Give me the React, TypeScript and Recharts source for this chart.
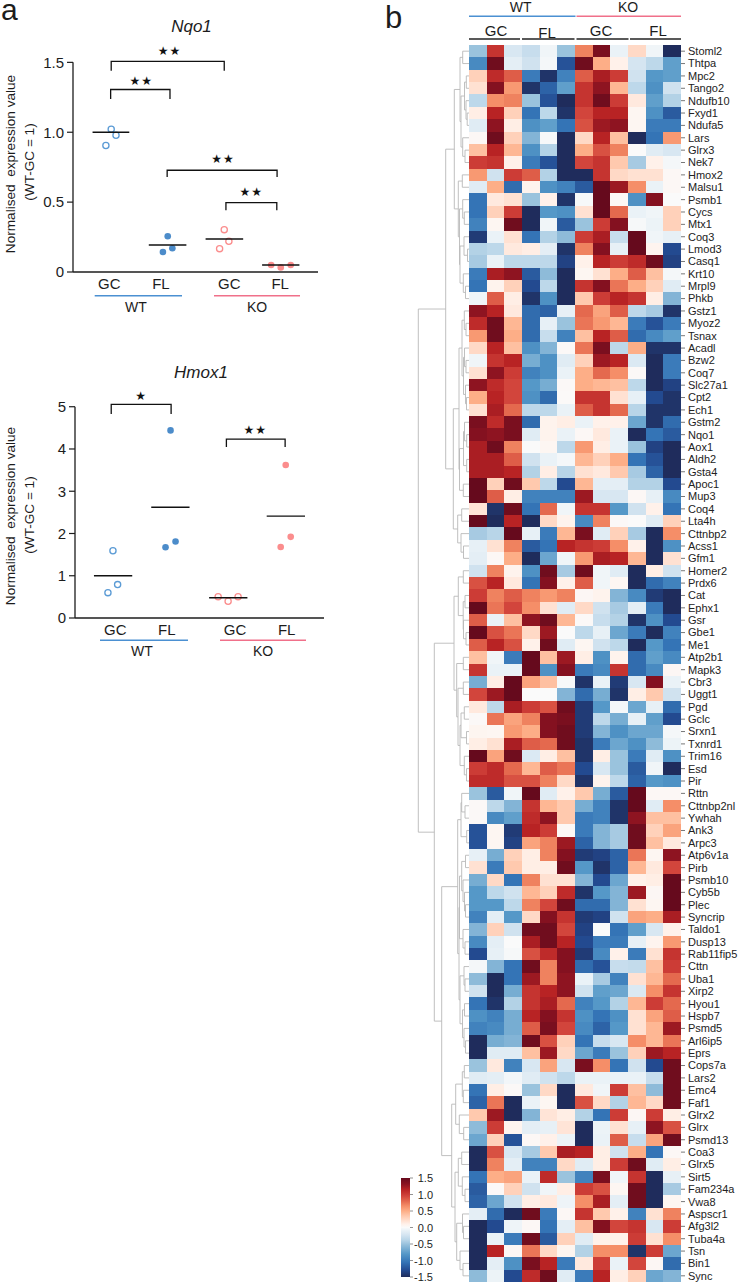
import React from 'react';
import { ScatterChart, Scatter, XAxis, YAxis, ReferenceArea } from 'recharts';

const FONT = '"Liberation Sans", Arial, sans-serif';

// ---------- panel a data ----------
const groupLabels = ['GC', 'FL', 'GC', 'FL'];

const nqoWtGc = [{ x: 1, y: 1.022 }, { x: 1.085, y: 0.979 }, { x: 0.906, y: 0.905 }];
const nqoWtFl = [{ x: 2, y: 0.256 }, { x: 2.082, y: 0.17 }, { x: 1.915, y: 0.143 }];
const nqoKoGc = [{ x: 3, y: 0.303 }, { x: 3.082, y: 0.22 }, { x: 2.918, y: 0.167 }];
const nqoKoFl = [{ x: 3.83, y: 0.05 }, { x: 4, y: 0.033 }, { x: 4.176, y: 0.05 }];
const nqoMeans = [
  [0.67, 1.32, 1.0],
  [1.665, 2.33, 0.193],
  [2.67, 3.335, 0.236],
  [3.67, 4.33, 0.05],
];
const nqoBrackets = [
  [1, 3, 1.507, 1.44, 1.44],
  [0.99, 2.04, 1.306, 1.237, 1.237],
  [1.99, 3.935, 0.728, 0.68, 0.68],
  [3.03, 3.93, 0.497, 0.442, 0.442],
];
const nqoStars = [
  { x: 2.03, y: 1.588, s: '★★' },
  { x: 1.53, y: 1.371, s: '★★' },
  { x: 2.98, y: 0.814, s: '★★' },
  { x: 3.48, y: 0.576, s: '★★' },
];
const nqoLabelTicks = [0.965, 1.88, 3.09, 3.99];

const hmoxWtGc = [{ x: 1, y: 1.59 }, { x: 1.081, y: 0.79 }, { x: 0.913, y: 0.6 }];
const hmoxWtFl = [{ x: 2, y: 4.44 }, { x: 2.087, y: 1.81 }, { x: 1.913, y: 1.675 }];
const hmoxKoGc = [{ x: 2.827, y: 0.505 }, { x: 3, y: 0.395 }, { x: 3.173, y: 0.505 }];
const hmoxKoFl = [{ x: 4, y: 3.62 }, { x: 4.087, y: 1.92 }, { x: 3.913, y: 1.68 }];
const hmoxMeans = [
  [0.67, 1.335, 1.0],
  [1.665, 2.33, 2.62],
  [2.67, 3.335, 0.48],
  [3.67, 4.335, 2.41],
];
const hmoxBrackets = [
  [0.97, 2.01, 5.055, 4.826, 4.826],
  [2.97, 3.99, 4.234, 4.044, 4.044],
];
const hmoxStars = [
  { x: 1.49, y: 5.26, s: '★' },
  { x: 3.47, y: 4.45, s: '★★' },
];
const hmoxLabelTicks = [1.04, 1.936, 3.12, 4.017];

// ---------- panel b data ----------
const genes = [
  'Stoml2', 'Thtpa', 'Mpc2', 'Tango2', 'Ndufb10', 'Fxyd1', 'Ndufa5', 'Lars', 'Glrx3', 'Nek7',
  'Hmox2', 'Malsu1', 'Psmb1', 'Cycs', 'Mtx1', 'Coq3', 'Lmod3', 'Casq1', 'Krt10', 'Mrpl9', 'Phkb',
  'Gstz1', 'Myoz2', 'Tsnax', 'Acadl', 'Bzw2', 'Coq7', 'Slc27a1', 'Cpt2', 'Ech1', 'Gstm2', 'Nqo1',
  'Aox1', 'Aldh2', 'Gsta4', 'Apoc1', 'Mup3', 'Coq4', 'Lta4h', 'Cttnbp2', 'Acss1', 'Gfm1',
  'Homer2', 'Prdx6', 'Cat', 'Ephx1', 'Gsr', 'Gbe1', 'Me1', 'Atp2b1', 'Mapk3', 'Cbr3', 'Uggt1',
  'Pgd', 'Gclc', 'Srxn1', 'Txnrd1', 'Trim16', 'Esd', 'Pir',
  'Rttn', 'Cttnbp2nl', 'Ywhah', 'Ank3', 'Arpc3', 'Atp6v1a', 'Pirb', 'Psmb10', 'Cyb5b', 'Plec',
  'Syncrip', 'Taldo1', 'Dusp13', 'Rab11fip5', 'Cttn', 'Uba1', 'Xirp2', 'Hyou1', 'Hspb7', 'Psmd5',
  'Arl6ip5', 'Eprs', 'Cops7a', 'Lars2', 'Emc4', 'Faf1', 'Glrx2', 'Glrx', 'Psmd13', 'Coa3', 'Glrx5',
  'Sirt5', 'Fam234a', 'Vwa8', 'Aspscr1', 'Afg3l2', 'Tuba4a', 'Tsn', 'Bin1', 'Sync',
];

const heatRows = [
  [-.5, 1.05, -.2, -.3, -.05, -.5, .7, 1.4, -.08, .25, -.05, -1.5],
  [-.9, 1.45, -.12, -.25, -.03, -1.25, 1.45, .5, .1, -.22, -.35, -.75],
  [.3, 1.1, .85, -1.0, -1.45, -.95, .85, 1.2, 1.0, -.25, -.8, -.75],
  [.2, 1.35, .6, -1.45, -1.15, -.75, 1.05, 1.3, .45, -.35, -.85, -.25],
  [-.35, .65, .7, -.5, -1.25, -1.5, 1.05, 1.45, 1.0, .15, -.75, -.4],
  [.12, 1.15, .3, -1.05, -.35, -1.45, .95, 1.15, 1.15, .05, -.85, -1.2],
  [-.15, 1.3, .12, -.85, -.75, -1.05, .9, 1.25, 1.3, .05, -1.0, -1.0],
  [.03, 1.45, .3, -.6, -.02, -1.5, .25, 1.15, .4, -1.5, -1.05, .6],
  [.4, 1.15, .45, -.85, -.4, -1.5, .5, .9, .7, 0, -.15, -.2],
  [1.0, 1.05, .1, -1.0, -1.25, -1.5, .95, 1.05, .35, -.45, .1, -.03],
  [.6, -.25, 1.0, .85, -.4, -1.5, -1.5, 1.05, .25, .2, .2, .03],
  [-.15, .5, -1.1, .08, -.85, -.95, -1.2, 1.5, 1.25, .65, -.08, .03],
  [-1.05, .15, .2, -.5, .1, -1.45, -.02, 1.5, .03, -.85, 1.35, 0],
  [-1.05, .3, 1.0, -1.5, -.8, -.85, .2, 1.5, .8, -.08, -.05, .3],
  [-.95, .05, 1.45, -1.5, -.05, -1.2, -.5, 1.0, 1.35, -.02, -.07, .3],
  [-1.4, -.08, .2, -1.05, -.4, -.55, 1.0, 1.2, -.3, 1.5, -.05, -.1],
  [-.4, -.35, .15, .12, -.12, -1.45, .7, 1.35, -.1, 1.5, .07, -1.3],
  [-.45, -.08, -.35, -.35, -.35, -1.35, .1, 1.15, 1.0, 1.1, 1.45, -1.35],
  [-1.0, 1.2, 1.3, -1.2, -.55, -1.5, .05, .2, .5, .85, .4, -.03],
  [-1.05, .08, .3, -1.3, -.35, -1.5, 1.05, 1.35, .75, .5, .3, -.15],
  [-.05, .85, .12, -1.45, -.85, -1.5, .35, 1.0, 1.15, 1.05, .12, -.6],
  [1.3, 1.15, .15, -1.1, -1.15, -.1, .8, .55, .85, -.35, -.45, -1.45],
  [1.1, 1.45, .45, -1.1, -.1, -.5, .75, .6, .45, -1.0, -1.25, -1.0],
  [.6, 1.45, .5, -1.1, -.3, -.95, .4, 1.15, .85, -1.1, -.9, -.75],
  [.25, 1.15, .4, -.85, -.6, .02, .75, 1.4, -.35, .5, -1.45, -1.45],
  [-.05, 1.05, 1.15, -.65, -.85, -.15, .3, 1.25, 1.15, -.18, -1.5, -1.0],
  [.2, 1.3, 1.0, -.95, -.85, -.08, .5, .8, .65, .02, -1.5, -1.0],
  [1.3, 1.1, .95, -.8, -.65, .02, .5, .45, .4, -.35, -1.5, -1.35],
  [.5, 1.15, .95, -.85, -1.1, .01, 1.05, 1.05, .2, -.1, -1.3, -1.45],
  [.2, 1.2, .8, -.35, -.35, -.08, .85, 1.05, .8, -.38, -1.45, -1.45],
  [1.4, 1.1, 1.4, -1.1, .08, .12, -.08, .1, .1, -.7, -1.45, -1.1],
  [1.35, 1.3, 1.4, -.15, .08, -.08, .03, .15, -.08, -1.5, -1.05, -1.2],
  [1.2, 1.45, .7, 0, .05, -.35, .6, .12, -.08, -.5, -1.35, -1.5],
  [1.2, 1.2, .85, -.25, -.08, -.03, .45, .3, .5, -1.05, -1.25, -1.5],
  [1.2, 1.2, 1.15, -.4, .12, -.38, .2, .15, .35, -.45, -1.15, -1.5],
  [1.5, .3, 1.45, .35, -.35, -1.3, .45, -.12, -.12, -.4, -.4, -1.3],
  [1.5, .85, .12, -.95, -.95, -.95, 1.25, -.2, -.2, .03, -.1, -.9],
  [.18, -1.45, 1.45, -1.05, .8, -.05, 1.05, 1.05, -.8, -.25, .1, -1.05],
  [1.5, -1.5, 1.15, -1.5, .25, .08, -.9, .7, .02, 0, -.15, .3],
  [-.45, -.38, 1.5, -.1, -1.0, .45, 1.4, -.15, .3, -.45, -1.5, .65],
  [-.1, .2, .7, -1.2, -1.05, 1.15, 1.05, 1.0, .65, .1, -1.5, -.85],
  [-.12, .03, .5, -1.5, -.7, -.05, .6, 1.2, 1.15, .45, -1.5, .2],
  [-.25, .7, .08, -.85, 1.45, -.45, 1.45, -.05, -.15, -1.5, .12, -.25],
  [.9, 1.15, .15, -1.05, 1.35, .1, .85, -.05, .05, -1.5, -1.1, -.95],
  [1.0, .7, .85, .7, .6, .7, .04, .08, -.6, -.9, -1.4, -1.5],
  [1.5, .75, .95, .65, .2, -.15, .25, -.25, -.45, -.12, -1.0, -1.5],
  [.85, -.08, .4, 1.3, 1.45, .45, .02, -.3, -.4, -1.45, -.85, -1.3],
  [1.5, .9, .75, .25, 1.25, 0, -.35, -.1, -.7, -1.0, -1.5, -.95],
  [.85, 1.15, .9, .1, 1.45, -.15, .05, -.25, -.35, -1.5, -.8, -1.05],
  [.4, -.05, -1.0, 1.5, .4, 1.25, .12, -.85, .08, -1.1, -.75, -.9],
  [1.05, -.08, -.08, 1.5, -.85, 1.35, -1.0, -.9, 1.05, -1.1, -.9, .04],
  [-.65, .12, 1.5, .55, .4, -.02, -1.45, -.08, -1.4, -.2, 1.35, -.08],
  [.95, 1.25, 1.5, 0, 0, -.6, -1.1, -.65, -1.45, .12, .35, -.25],
  [.15, -.35, 1.2, 1.0, .9, 1.45, -1.4, -.8, -.03, -.7, -.1, -1.1],
  [.02, .75, .55, .7, 1.35, 1.4, -1.4, -.35, -.65, -.1, -.75, -1.3],
  [.06, .05, .6, .5, 1.35, 1.45, -1.4, -.6, -.85, -.7, -.7, -.03],
  [.12, .2, 1.2, .85, .8, 1.45, -1.45, -1.0, -.7, -.85, -.55, -.07],
  [1.5, .55, 1.45, -.18, .12, .4, -1.45, .12, -.5, -1.0, -.15, -.85],
  [1.0, 1.1, .8, .45, .85, .75, -1.3, -.2, -.5, -1.2, -.05, -1.5],
  [1.1, 1.1, .9, .9, .7, .25, -1.45, .08, -.35, -1.15, -.8, -.85],
  [-.5, -1.2, -.05, 1.5, -.15, .1, .35, -.65, -1.2, 1.5, .03, .03],
  [.02, -.35, -.6, 1.05, .45, .35, -.65, -.95, -1.45, 1.5, -.15, .65],
  [.02, -.9, -.75, 1.1, 1.3, .35, -1.0, -.95, -1.45, 1.3, .4, .4],
  [-1.25, .05, -1.4, 1.15, 1.0, .03, -1.0, -.6, -.45, 1.45, .3, .55],
  [-1.25, .05, -1.35, .55, .7, 1.25, -1.15, -.6, -.45, 1.45, .4, .15],
  [-.1, -.65, .3, .12, .7, 1.35, -1.4, -1.35, -1.15, .75, .05, 1.3],
  [.2, -1.0, .35, .12, .12, 1.45, -.8, -1.45, -1.15, .45, .15, .95],
  [-.65, .25, -1.05, .7, .2, .2, -.6, -1.3, -.7, .1, .12, 1.5],
  [-.8, -.35, -.25, .45, .3, 1.1, -1.45, -.8, -.6, 1.25, .04, 1.5],
  [-.8, -.8, -.35, .7, .95, 1.45, -1.1, -1.1, -.6, .2, .05, 1.5],
  [-.95, -.12, -.8, .25, 1.35, 1.05, -1.4, -1.35, -.25, .55, .5, 1.2],
  [-.6, .3, -.25, 1.45, 1.45, .95, -1.35, 0, -1.05, -.75, -.2, .1],
  [-.9, -.12, 0, 1.2, 1.45, 1.15, -1.3, -1.0, -1.0, -.1, .07, .6],
  [-1.3, -.1, -.02, .9, 1.1, 1.35, -1.4, -.9, .1, -1.0, .2, 1.05],
  [-.03, -.6, -1.05, 1.45, .7, 1.35, -1.1, -1.25, -.3, -.32, .4, 1.0],
  [-.55, -1.5, -1.05, 1.25, .7, 1.3, -.08, -.45, -.95, .2, .45, .8],
  [-.25, -1.5, -.65, 1.05, 1.15, 1.3, -.25, -.75, -.7, -.18, .65, 1.05],
  [-1.05, -1.45, -.4, 1.05, 1.2, .8, -.95, -.8, -.4, .45, 1.0, .8],
  [-.85, -.95, -.65, 1.15, 1.35, 1.05, -.85, -1.05, -.85, .2, .55, .85],
  [-.95, -.9, -.65, .85, 1.4, .95, -.9, -1.15, -.8, .2, .45, 1.25],
  [-1.5, -.65, -.6, 1.45, .9, .3, -1.05, -.3, -.2, .65, .45, .75],
  [-1.5, -.15, -.15, .4, 1.25, .25, -.7, -1.0, -.5, .3, 1.25, 1.15],
  [-.5, .15, -.95, -.2, .55, -.2, 1.4, .65, -1.05, -.25, -1.3, 1.45],
  [-.15, -.12, -.04, -.15, -.25, -.35, -.08, -.08, -.08, -.08, -.3, 1.45],
  [-1.05, .12, .02, -.5, .25, -1.5, .15, -.05, 1.0, .4, -.55, 1.45],
  [-1.15, .75, -1.5, -.08, .05, -1.5, .9, .25, -.4, .45, .25, 1.45],
  [.35, 1.25, -1.5, -.6, .18, .12, -.4, -1.05, 1.0, .04, 1.0, .12],
  [-.55, 1.0, .07, -.12, -.1, .18, -1.5, -.07, .2, -.1, 1.3, .9],
  [-.7, .3, -1.25, .03, .1, -.07, -1.5, -.08, .85, -.3, .55, 1.45],
  [-1.5, .9, -.2, -.45, .35, 1.2, 1.15, .12, -.25, .5, -1.05, .03],
  [-1.5, .7, -.12, -.95, -.95, .25, -.15, .12, 1.0, 1.45, -.15, .12],
  [-1.05, .5, .55, -.08, 1.1, -.5, -.95, 1.4, -.05, 1.05, -1.5, -.1],
  [-1.2, .02, .3, -.25, -.05, .12, 1.0, .9, .05, 1.45, -1.5, -.45],
  [-1.15, -.7, -.25, .12, .15, -.06, .65, 1.2, -.12, 1.45, -1.5, .05],
  [-.12, -1.1, -1.5, 1.45, -1.0, .03, 1.05, .35, .1, -.95, .2, .7],
  [-1.5, -1.3, -.06, .03, -1.05, -.12, .4, 1.35, .95, 1.05, -.2, 1.0],
  [-1.5, -.08, -1.0, 1.45, -1.2, .3, -.15, .1, .1, 1.0, .2, .65],
  [-1.5, 1.15, .04, .75, .25, .06, -.4, .65, .65, -1.45, 1.0, -.7],
  [-1.5, -.12, -.85, 1.4, 1.15, -1.0, .15, 1.0, -.08, .95, .04, -1.1],
  [-.55, -.07, -1.3, 1.1, 1.45, -.15, -1.0, 1.15, .12, .3, -.7, -.6],
];

const colorTicks = [-1.5, -1.0, -0.5, 0, 0.5, 1.0, 1.5];
const colorStops: [number, string][] = [
  [-1.5, '#1f2c5c'], [-1.3, '#234a90'], [-1.05, '#3474b6'], [-0.8, '#5598c8'], [-0.55, '#8ebbd9'],
  [-0.38, '#b8d5e8'], [-0.22, '#d5e5f1'], [-0.08, '#eaf2f7'], [0, '#fafafa'], [0.1, '#fff1ea'],
  [0.2, '#ffe1d2'], [0.35, '#ffc9ae'], [0.5, '#fdae87'], [0.65, '#f58e68'], [0.8, '#e4694e'],
  [0.95, '#d2453c'], [1.15, '#b82324'], [1.3, '#8e1421'], [1.5, '#660a1d'],
];

// Dendrogram: [height, child, child]; L is a leaf, taken in row order.
const L = 0;
const clusterA1a = [9, [6.3, L, L], [8, [4.5, [2.7, L, L], [3, L, [1.8, L, L]]], [6.3, L, [4, L, L]]]];
const clusterA1b = [10.7, [6.7, L, L], [9.5, [6.3, L, [4.7, L, L]], [9, [5, L, [1.5, L, L]], [5.7, L, [3.5, L, L]]]]];
const clusterA2a = [10,
  [7, [4.7, L, [3, L, L]], [5.5, [4.5, L, [3, L, L]], [3.5, L, [2.5, L, L]]]],
  [9.5, [5.5, [4.5, L, [2.3, L, L]], [2.3, L, L]], [5.7, L, L]],
];
const clusterA2b = [11.3, [7.3, L, L], [8, L, [5.5, L, L]]];
const clusterB1 = [10.7, [5.7, L, L], [5.8, [4, L, L], [5.5, L, [3, L, L]]]];
const clusterB2 = [12.3, [5.7, L, L], [11, [5.7, L, L], [9, [8, [4.7, L, L], [2.5, L, L]], [4.7, L, [2.5, L, L]]]]];
const clusterC1 = [11.3,
  [8, [7.3, L, [4, L, L]], [2.3, L, L]],
  [10,
    [9.5, [7.3, [3.5, L, L], [6, L, [4.5, L, [3.5, L, L]]]], [6, L, [4, L, L]]],
    [9, [5, L, [4, L, L]], [6.5, [4.5, L, L], [5, L, [3.5, L, L]]]],
  ],
];
const clusterC2 = [17.3,
  [13.3, [6.7, [4.7, L, L], [5.7, L, L]], [9.7, L, [5.3, L, L]]],
  [14,
    [10.7, [7.3, L, L], [6.7, L, [4, L, L]]],
    [12.3, [6.5, L, [5.5, L, L]], [9, L, [6, L, L]]],
  ],
];
const dendroTree = [50.7,
  [23.3, [14.7, clusterA1a, clusterA1b], [15.7, clusterA2a, clusterA2b]],
  [34.7, [15, clusterB1, clusterB2], [27.3, clusterC1, clusterC2]],
];

// ---------- derived helpers ----------
function hexToRgb(h: string) {
  return [1, 3, 5].map((i) => parseInt(h.slice(i, i + 2), 16));
}
function colorFor(v: number) {
  const c = Math.max(-1.5, Math.min(1.5, v));
  for (let i = 1; i < colorStops.length; i++) {
    if (c <= colorStops[i][0]) {
      const [a, ca] = colorStops[i - 1];
      const [b, cb] = colorStops[i];
      const t = (c - a) / (b - a);
      const ra = hexToRgb(ca);
      const rb = hexToRgb(cb);
      return `rgb(${ra.map((x, k) => Math.round(x + (rb[k] - x) * t)).join(',')})`;
    }
  }
  return colorStops[colorStops.length - 1][1];
}

const heatCells = heatRows.flatMap((row, r) => row.map((v, c) => ({ x: c + 0.5, y: r + 0.5, v })));
const rowTicks = genes.map((_, i) => i + 0.5);

function buildLinks(tree: any) {
  const links: { x: number; y: number }[][] = [];
  let row = 0;
  const walk = (n: any): { y: number; h: number } => {
    if (n === L) {
      const y = row + 0.5;
      row += 1;
      return { y, h: 0 };
    }
    const a = walk(n[1]);
    const b = walk(n[2]);
    links.push([
      { x: a.h, y: a.y },
      { x: n[0], y: a.y },
      { x: n[0], y: b.y },
      { x: b.h, y: b.y },
    ]);
    return { y: (a.y + b.y) / 2, h: n[0] };
  };
  walk(tree);
  return links;
}
const dendroLinks = buildLinks(dendroTree);

const BLUE = '#4b90d2';
const PINK = '#f0708a';
const BLUE_DOT = '#5b9bd5';
const BLUE_FILL = '#4c8cca';
const PINK_DOT = '#fb8d8d';
const INK = '#1c1c1c';

const noShape = () => null;
const hollow = (color: string) => (p: any) => (
  <circle cx={p.cx} cy={p.cy} r={3.1} fill="none" stroke={color} strokeWidth={1.3} />
);
const solid = (color: string) => (p: any) => <circle cx={p.cx} cy={p.cy} r={3.3} fill={color} />;
const starShape = (p: any) => (
  <text
    x={p.cx}
    y={p.cy + 4.5}
    textAnchor="middle"
    fontFamily='"DejaVu Sans", sans-serif'
    fontSize={12}
    letterSpacing={1}
    fill="#111"
  >
    {p.payload.s}
  </text>
);

type PanelProps = {
  top: number;
  height: number;
  mTop: number;
  mLeft: number;
  mRight: number;
  xDomain: number[];
  yDomain: number[];
  yTop: number;
  yTicks: number[];
  yFmt: (v: number) => string;
  labelTicks: number[];
  series: { pts: { x: number; y: number }[]; shape: any }[];
  means: number[][];
  brackets: number[][];
  stars: { x: number; y: number; s: string }[];
};

function DotPanel(p: PanelProps) {
  return (
    <div style={{ position: 'absolute', left: 0, top: p.top }}>
      <ScatterChart
        width={340}
        height={p.height}
        margin={{ top: p.mTop, right: p.mRight, bottom: 8, left: p.mLeft }}
      >
        <XAxis
          type="number"
          dataKey="x"
          domain={p.xDomain}
          ticks={p.labelTicks}
          interval={0}
          tickFormatter={(v: number) => groupLabels[p.labelTicks.indexOf(v)]}
          tickLine={false}
          height={30}
          tickMargin={0}
          axisLine={{ stroke: INK, strokeWidth: 1.3 }}
          tick={{ fontSize: 15, fill: INK, fontFamily: FONT }}
        />
        <YAxis
          type="number"
          dataKey="y"
          domain={p.yDomain}
          ticks={p.yTicks}
          interval={0}
          width={40}
          tickSize={6}
          tickMargin={3}
          tickFormatter={p.yFmt}
          tickLine={{ stroke: INK, strokeWidth: 1.2 }}
          axisLine={false}
          tick={{ fontSize: 15, fill: INK, fontFamily: FONT }}
        />
        <Scatter
          isAnimationActive={false}
          data={[
            { x: p.xDomain[0], y: 0 },
            { x: p.xDomain[0], y: p.yTop },
          ]}
          line={{ stroke: INK, strokeWidth: 1.3 }}
          shape={noShape}
        />
        {p.brackets.map((b, i) => (
          <Scatter
            key={`b${i}`}
            isAnimationActive={false}
            data={[
              { x: b[0], y: b[3] },
              { x: b[0], y: b[2] },
              { x: b[1], y: b[2] },
              { x: b[1], y: b[4] },
            ]}
            line={{ stroke: '#111', strokeWidth: 1.3 }}
            shape={noShape}
          />
        ))}
        {p.series.map((s, i) => (
          <Scatter key={`s${i}`} isAnimationActive={false} data={s.pts} shape={s.shape} />
        ))}
        {p.means.map((m, i) => (
          <Scatter
            key={`m${i}`}
            isAnimationActive={false}
            data={[
              { x: m[0], y: m[2] },
              { x: m[1], y: m[2] },
            ]}
            line={{ stroke: '#111', strokeWidth: 1.4 }}
            shape={noShape}
          />
        ))}
        <Scatter isAnimationActive={false} data={p.stars} shape={starShape} />
      </ScatterChart>
    </div>
  );
}

const HeatCell = (p: any) => {
  const w = 212 / 12;
  const h = 1237 / 100;
  return (
    <rect
      x={p.cx - w / 2}
      y={p.cy - h / 2}
      width={w + 0.3}
      height={h + 0.3}
      fill={colorFor(p.payload.v)}
      shapeRendering="crispEdges"
    />
  );
};

const gradientStops = [...colorStops].reverse();

const ColorTick = (p: any) => (
  <text x={p.x + 18} y={p.y + 4} textAnchor="end" fontSize={11} fill={INK} fontFamily={FONT}>
    {p.payload.value.toFixed(1)}
  </text>
);

function Line2(p: { x1: number; x2: number; y: number; c: string; w?: number }) {
  return <line x1={p.x1} x2={p.x2} y1={p.y} y2={p.y} stroke={p.c} strokeWidth={p.w ?? 1.4} />;
}
function Txt(p: any) {
  const { x, y, size = 14, anchor = 'middle', italic, rot, children } = p;
  return (
    <text
      x={x}
      y={y}
      fontSize={size}
      textAnchor={anchor}
      fontStyle={italic ? 'italic' : 'normal'}
      fill={INK}
      fontFamily={FONT}
      transform={rot ? `rotate(-90 ${x} ${y})` : undefined}
    >
      {children}
    </text>
  );
}

const yLabel = 'Normalised\u00a0\u00a0expression value';

export default function App() {
  return (
    <div style={{ position: 'absolute', left: 0, top: 0, width: 740, height: 1283, background: '#fff', overflow: 'hidden' }}>
      <DotPanel
        top={0}
        height={310}
        mTop={41.4}
        mLeft={33}
        mRight={22}
        xDomain={[0.324, 4.659]}
        yDomain={[0, 1.65]}
        yTop={1.5}
        yTicks={[0, 0.5, 1.0, 1.5]}
        yFmt={(v) => (v === 0 ? '0' : v.toFixed(1))}
        labelTicks={nqoLabelTicks}
        series={[
          { pts: nqoWtGc, shape: hollow(BLUE_DOT) },
          { pts: nqoWtFl, shape: solid(BLUE_FILL) },
          { pts: nqoKoGc, shape: hollow(PINK_DOT) },
          { pts: nqoKoFl, shape: solid(PINK_DOT) },
        ]}
        means={nqoMeans}
        brackets={nqoBrackets}
        stars={nqoStars}
      />
      <DotPanel
        top={344}
        height={312}
        mTop={41.6}
        mLeft={35}
        mRight={16}
        xDomain={[0.341, 4.665]}
        yDomain={[0, 5.5]}
        yTop={5}
        yTicks={[0, 1, 2, 3, 4, 5]}
        yFmt={(v) => String(v)}
        labelTicks={hmoxLabelTicks}
        series={[
          { pts: hmoxWtGc, shape: hollow(BLUE_DOT) },
          { pts: hmoxWtFl, shape: solid(BLUE_FILL) },
          { pts: hmoxKoGc, shape: hollow(PINK_DOT) },
          { pts: hmoxKoFl, shape: solid(PINK_DOT) },
        ]}
        means={hmoxMeans}
        brackets={hmoxBrackets}
        stars={hmoxStars}
      />

      {/* dendrogram */}
      <div style={{ position: 'absolute', left: 405, top: 45 }}>
        <ScatterChart width={64} height={1237} margin={{ top: 0, right: 0, bottom: 0, left: 0 }}>
          <XAxis type="number" dataKey="x" domain={[0, 64]} reversed hide />
          <YAxis type="number" dataKey="y" domain={[0, 100]} reversed hide />
          {dendroLinks.map((pts, i) => (
            <Scatter
              key={i}
              isAnimationActive={false}
              data={pts}
              line={{ stroke: '#b9b9b9', strokeWidth: 0.9 }}
              shape={noShape}
            />
          ))}
        </ScatterChart>
      </div>

      {/* heatmap */}
      <div style={{ position: 'absolute', left: 469, top: 45 }}>
        <ScatterChart width={271} height={1237} margin={{ top: 0, right: 0, bottom: 0, left: 0 }}>
          <XAxis type="number" dataKey="x" domain={[0, 12]} hide />
          <YAxis
            type="number"
            dataKey="y"
            orientation="right"
            domain={[0, 100]}
            reversed
            ticks={rowTicks}
            interval={0}
            width={59}
            axisLine={false}
            tickSize={4}
            tickMargin={3}
            tickLine={{ stroke: '#555', strokeWidth: 0.8 }}
            tickFormatter={(v: number) => genes[Math.floor(v)]}
            tick={{ fontSize: 11, fill: '#222', fontFamily: FONT, textAnchor: 'start' }}
          />
          <Scatter isAnimationActive={false} data={heatCells} shape={HeatCell} />
        </ScatterChart>
      </div>

      {/* colour bar */}
      <div style={{ position: 'absolute', left: 401, top: 1170 }}>
        <ScatterChart width={40} height={115} margin={{ top: 8, right: 0, bottom: 8, left: 0 }}>
          <defs>
            <linearGradient id="heatScale" x1="0" y1="0" x2="0" y2="1">
              {gradientStops.map(([v, c]) => (
                <stop key={v} offset={(1.5 - v) / 3} stopColor={c} />
              ))}
            </linearGradient>
          </defs>
          <XAxis type="number" dataKey="x" domain={[0, 1]} hide />
          <YAxis
            type="number"
            dataKey="y"
            orientation="right"
            domain={[-1.5, 1.5]}
            ticks={colorTicks}
            interval={0}
            width={31}
            axisLine={false}
            tickSize={3}
            tickLine={{ stroke: '#777', strokeWidth: 0.8 }}
            tick={ColorTick}
          />
          <ReferenceArea x1={0} x2={1} y1={-1.5} y2={1.5} fill="url(#heatScale)" fillOpacity={1} stroke="none" ifOverflow="visible" />
          <Scatter isAnimationActive={false} data={colorTicks.map((y) => ({ x: 0.5, y }))} shape={noShape} />
        </ScatterChart>
      </div>

      {/* annotations */}
      <svg width={740} height={1283} style={{ position: 'absolute', left: 0, top: 0, pointerEvents: 'none' }}>
        <Txt x={1} y={20} size={30} anchor="start">a</Txt>
        <Txt x={385} y={28} size={31} anchor="start">b</Txt>

        <Txt x={191.5} y={32} size={17} italic>Nqo1</Txt>
        <Txt x={201} y={378} size={17} italic>Hmox1</Txt>

        <Txt x={15} y={164} size={13.6} rot>{yLabel}</Txt>
        <Txt x={34} y={162} size={13.6} rot>(WT-GC = 1)</Txt>
        <Txt x={15} y={516} size={13.6} rot>{yLabel}</Txt>
        <Txt x={34} y={515} size={13.6} rot>(WT-GC = 1)</Txt>

        <Line2 x1={94.7} x2={182} y={295.7} c={BLUE} />
        <Line2 x1={214} x2={300} y={295.7} c={PINK} />
        <Txt x={136} y={312}>WT</Txt>
        <Txt x={257} y={312}>KO</Txt>

        <Line2 x1={100} x2={188} y={640.3} c={BLUE} />
        <Line2 x1={220} x2={306} y={640.3} c={PINK} />
        <Txt x={142} y={656}>WT</Txt>
        <Txt x={263} y={656}>KO</Txt>

        <Txt x={520.7} y={12}>WT</Txt>
        <Txt x={628} y={12}>KO</Txt>
        <Line2 x1={469} x2={575.5} y={16.3} c={BLUE} />
        <Line2 x1={576.5} x2={681} y={16.3} c={PINK} />
        <Txt x={496} y={36} size={15}>GC</Txt>
        <Txt x={547} y={37.5} size={15}>FL</Txt>
        <Txt x={601} y={36} size={15}>GC</Txt>
        <Txt x={658} y={35.5} size={15}>FL</Txt>
        <Line2 x1={469} x2={520} y={39} c="#222" w={1.6} />
        <Line2 x1={522} x2={574.5} y={39} c="#222" w={1.6} />
        <Line2 x1={576.5} x2={628.5} y={39} c="#222" w={1.6} />
        <Line2 x1={630} x2={681} y={39} c="#222" w={1.6} />
      </svg>
    </div>
  );
}
